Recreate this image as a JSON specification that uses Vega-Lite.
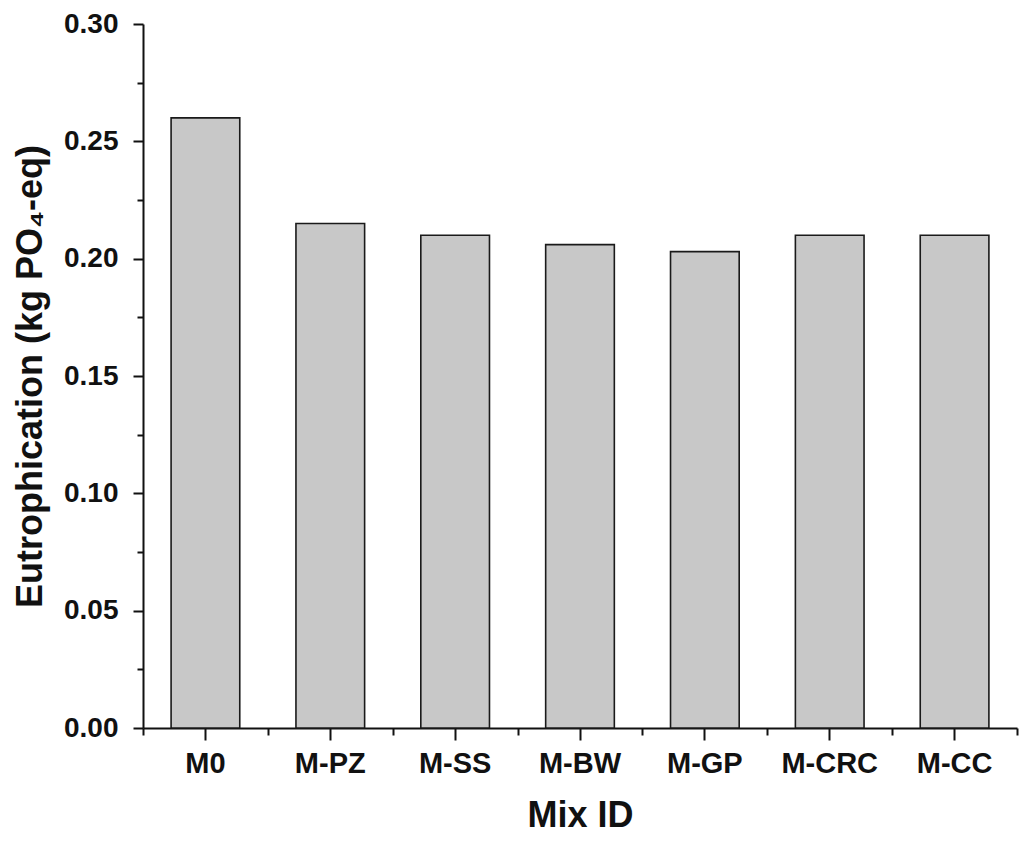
{
  "$schema": "https://vega.github.io/schema/vega-lite/v6.json",
  "width": 874,
  "height": 704,
  "autosize": "none",
  "padding": {"left": 143, "top": 24, "right": 16, "bottom": 116},
  "background": "white",
  "config": {
    "view": {"stroke": null},
    "font": "Liberation Sans",
    "axis": {
      "domainColor": "#111",
      "domainWidth": 2,
      "tickColor": "#111",
      "tickWidth": 2,
      "labelColor": "#111",
      "titleColor": "#111",
      "labelFont": "Liberation Sans",
      "titleFont": "Liberation Sans",
      "labelFontWeight": "bold",
      "titleFontWeight": "bold",
      "grid": false
    }
  },
  "data": {
    "values": [
      {"mix": "M0", "eutro": 0.260},
      {"mix": "M-PZ", "eutro": 0.215},
      {"mix": "M-SS", "eutro": 0.210},
      {"mix": "M-BW", "eutro": 0.206},
      {"mix": "M-GP", "eutro": 0.203},
      {"mix": "M-CRC", "eutro": 0.210},
      {"mix": "M-CC", "eutro": 0.210}
    ]
  },
  "layer": [
    {
      "mark": {"type": "bar", "fill": "#c8c8c8", "stroke": "#1a1a1a", "strokeWidth": 1.6},
      "encoding": {
        "x": {
          "field": "mix",
          "type": "nominal",
          "sort": null,
          "scale": {"paddingInner": 0.45, "paddingOuter": 0.225},
          "axis": {
            "orient": "bottom",
            "title": "Mix ID",
            "titleFontSize": 36,
            "titlePadding": 20,
            "labelFontSize": 29,
            "labelAngle": 0,
            "labelPadding": 9,
            "tickSize": 12
          }
        },
        "y": {
          "field": "eutro",
          "type": "quantitative",
          "scale": {"domain": [0, 0.3], "nice": false},
          "axis": {
            "title": "Eutrophication (kg PO₄-eq)",
            "titleFontSize": 36,
            "titlePadding": 14,
            "labelFontSize": 28,
            "labelPadding": 15,
            "values": [0, 0.025, 0.05, 0.075, 0.1, 0.125, 0.15, 0.175, 0.2, 0.225, 0.25, 0.275, 0.3],
            "labelExpr": "abs(datum.value * 20 - round(datum.value * 20)) < 0.001 ? format(datum.value, '.2f') : ''",
            "tickSize": {"condition": {"test": "abs(datum.value * 20 - round(datum.value * 20)) < 0.001", "value": 10}, "value": 6}
          }
        }
      }
    },
    {
      "mark": {"type": "bar", "opacity": 0},
      "encoding": {
        "x": {
          "field": "mix",
          "type": "nominal",
          "sort": null,
          "scale": {"paddingInner": 0, "paddingOuter": 0},
          "axis": {
            "orient": "bottom",
            "title": null,
            "labels": false,
            "domain": false,
            "tickBand": "extent",
            "tickSize": 7
          }
        },
        "y": {"field": "eutro", "type": "quantitative"}
      }
    }
  ],
  "resolve": {"scale": {"x": "independent"}, "axis": {"x": "independent"}}
}
